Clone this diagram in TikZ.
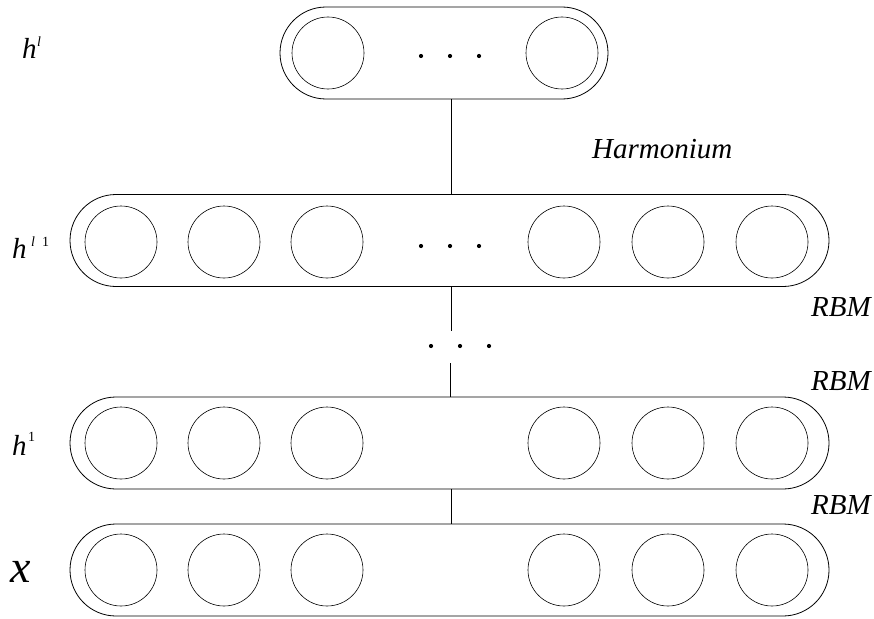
\documentclass[tikz,border=0pt]{standalone}
\usepackage{fontspec}
\setmainfont{Liberation Serif}
\begin{document}
\begin{tikzpicture}[x=1pt,y=-1pt,
  layerbox/.style={draw,line width=0.8pt,rounded corners=46pt,minimum height=92pt,inner sep=0pt},
  unit/.style={draw,circle,line width=0.6pt,minimum size=72pt,inner sep=0pt},
  dot/.style={fill,circle,inner sep=0pt,minimum size=4.2pt},
  conn/.style={line width=0.8pt},
  lab/.style={anchor=base west,inner sep=0pt,font=\fontsize{29}{30}\selectfont\itshape},
  sup/.style={anchor=base west,inner sep=0pt,font=\fontsize{14}{15}\selectfont\itshape}]
\useasboundingbox (0,0) rectangle (874,618);
% layer boxes
\node[layerbox,minimum width=328pt] (top) at (444,53) {};
\node[layerbox,minimum width=759pt] (l2) at (449.5,240.5) {};
\node[layerbox,minimum width=759pt] (l1) at (449.5,443) {};
\node[layerbox,minimum width=759pt] (lx) at (449.5,570) {};
% top units
\node[unit] (t1) at (328,53) {};
\node[unit] (t2) at (562,53) {};
\node[dot] (td1) at (421,56) {};
\node[dot] (td2) at (450,56) {};
\node[dot] (td3) at (479,56) {};
% layer units
\foreach \i/\xx in {1/121,2/224,3/327,4/564,5/668,6/772}{
  \node[unit] (a\i) at (\xx,242) {};
  \node[unit] (b\i) at (\xx,443) {};
  \node[unit] (c\i) at (\xx,570) {};
}
\node[dot] (ad1) at (421,246) {};
\node[dot] (ad2) at (450,246) {};
\node[dot] (ad3) at (479,246) {};
% middle dots
\node[dot] (md1) at (431,346) {};
\node[dot] (md2) at (460,346) {};
\node[dot] (md3) at (489,346) {};
% connectors
\coordinate (v1) at (451,0);
\coordinate (v2) at (450,0);
\coordinate (gapTop) at (451,331);
\coordinate (gapBot) at (450,363);
\draw[conn] (top.south -| v1) -- (l2.north -| v1);
\draw[conn] (l2.south -| v1) -- (gapTop);
\draw[conn] (gapBot) -- (l1.north -| v2);
\draw[conn] (l1.south -| v1) -- (lx.north -| v1);
% labels
\node[lab] (hl) at (22,58) {h};
\node[sup] (hlsup) at (37,47) {l};
\node[lab] (hl1) at (12,258) {h};
\node[sup] (hl1sup) at (31,246) {l\hspace{7pt}\upshape 1};
\node[lab] (h1) at (12,455) {h};
\node[sup] (h1sup) at (28,441) {\upshape 1};
\node[lab,font=\fontsize{46}{48}\selectfont\itshape] (xl) at (10,582) {x};
\node[lab] (harm) at (592,158) {Harmonium};
\node[lab] (rbm1) at (811,316) {RBM};
\node[lab] (rbm2) at (811,390) {RBM};
\node[lab] (rbm3) at (811,514) {RBM};
\end{tikzpicture}
\end{document}
